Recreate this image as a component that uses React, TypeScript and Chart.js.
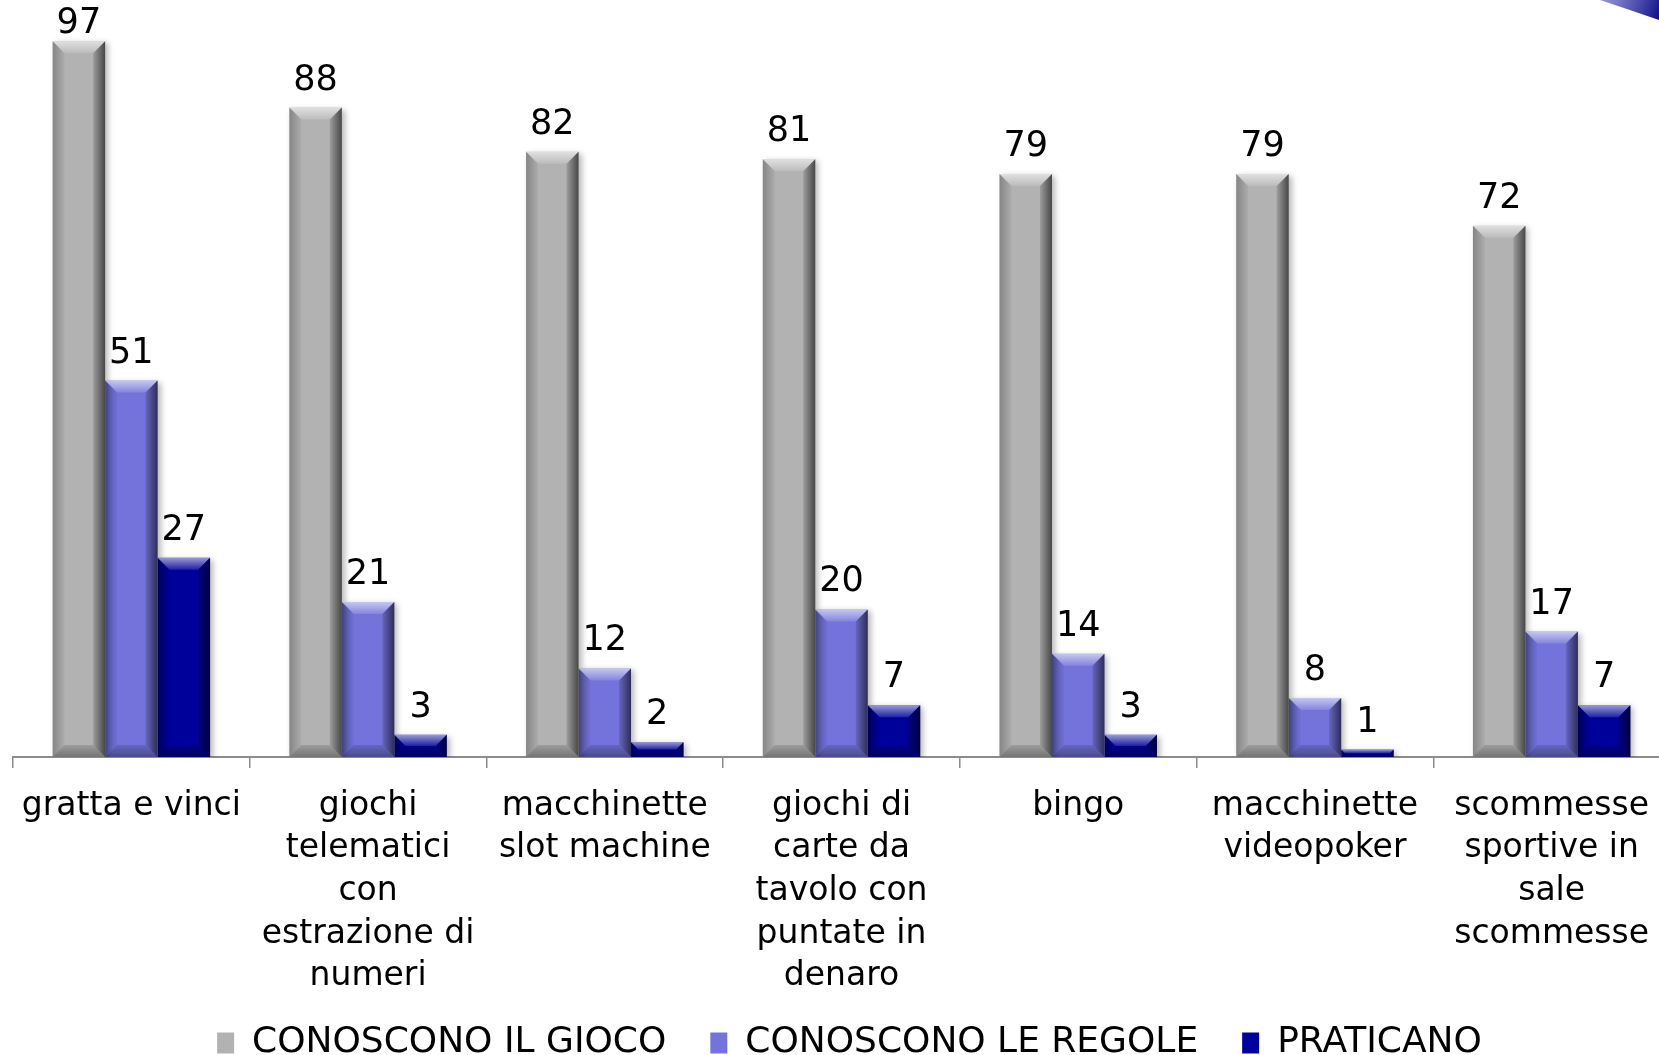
import React, { useEffect, useRef } from "react";
import { Chart, registerables } from "chart.js";

Chart.register(...registerables);

const categories: string[][] = [
  ["gratta e vinci"],
  ["giochi", "telematici", "con", "estrazione di", "numeri"],
  ["macchinette", "slot machine"],
  ["giochi di", "carte da", "tavolo con", "puntate in", "denaro"],
  ["bingo"],
  ["macchinette", "videopoker"],
  ["scommesse", "sportive in", "sale", "scommesse"],
];
const seriesNames = ["CONOSCONO IL GIOCO", "CONOSCONO LE REGOLE", "PRATICANO"];
const conosconoGioco = [97, 88, 82, 81, 79, 79, 72];
const conosconoRegole = [51, 21, 12, 20, 14, 8, 17];
const praticano = [27, 3, 2, 7, 3, 1, 7];
const seriesColors = ["#B2B2B2", "#7373DB", "#00009A"];

const FONT = "'DejaVu Sans', sans-serif";

const shadowPlugin = {
  id: "barShadow",
  beforeDatasetDraw(chart: any) {
    const ctx = chart.ctx;
    ctx.save();
    ctx.shadowColor = "rgba(0,0,0,0.28)";
    ctx.shadowBlur = 6;
    ctx.shadowOffsetX = 3;
    ctx.shadowOffsetY = 2;
  },
  afterDatasetDraw(chart: any) {
    chart.ctx.restore();
  },
};

const bevelPlugin = {
  id: "bevel",
  afterDatasetsDraw(chart: any) {
    const ctx = chart.ctx;
    chart.data.datasets.forEach((_ds: any, di: number) => {
      const meta = chart.getDatasetMeta(di);
      meta.data.forEach((bar: any) => {
        const { x, y, base, width } = bar.getProps(["x", "y", "base", "width"], true);
        const L = x - width / 2;
        const R = x + width / 2;
        const T = Math.min(y, base);
        const B = Math.max(y, base);
        const h = B - T;
        const b = Math.min(12, h / 2);
        ctx.save();
        let g = ctx.createLinearGradient(0, T, 0, T + b);
        g.addColorStop(0, "rgba(255,255,255,0.6)");
        g.addColorStop(1, "rgba(255,255,255,0.12)");
        ctx.fillStyle = g;
        ctx.beginPath();
        ctx.moveTo(L, T);
        ctx.lineTo(R, T);
        ctx.lineTo(R - b, T + b);
        ctx.lineTo(L + b, T + b);
        ctx.closePath();
        ctx.fill();
        g = ctx.createLinearGradient(R - b, 0, R, 0);
        g.addColorStop(0, "rgba(0,0,0,0.12)");
        g.addColorStop(1, "rgba(0,0,0,0.6)");
        ctx.fillStyle = g;
        ctx.beginPath();
        ctx.moveTo(R, T);
        ctx.lineTo(R, B);
        ctx.lineTo(R - b, B - b);
        ctx.lineTo(R - b, T + b);
        ctx.closePath();
        ctx.fill();
        g = ctx.createLinearGradient(L, 0, L + b, 0);
        g.addColorStop(0, "rgba(0,0,0,0.25)");
        g.addColorStop(1, "rgba(0,0,0,0.03)");
        ctx.fillStyle = g;
        ctx.beginPath();
        ctx.moveTo(L, T);
        ctx.lineTo(L + b, T + b);
        ctx.lineTo(L + b, B - b);
        ctx.lineTo(L, B);
        ctx.closePath();
        ctx.fill();
        g = ctx.createLinearGradient(0, B - b, 0, B);
        g.addColorStop(0, "rgba(0,0,0,0.12)");
        g.addColorStop(1, "rgba(0,0,0,0.35)");
        ctx.fillStyle = g;
        ctx.beginPath();
        ctx.moveTo(L, B);
        ctx.lineTo(R, B);
        ctx.lineTo(R - b, B - b);
        ctx.lineTo(L + b, B - b);
        ctx.closePath();
        ctx.fill();
        ctx.restore();
      });
    });
  },
};

const valueLabelPlugin = {
  id: "valueLabels",
  afterDatasetsDraw(chart: any) {
    const ctx = chart.ctx;
    ctx.save();
    ctx.font = `35px ${FONT}`;
    ctx.fillStyle = "#000";
    ctx.textAlign = "center";
    ctx.textBaseline = "alphabetic";
    chart.data.datasets.forEach((ds: any, di: number) => {
      const meta = chart.getDatasetMeta(di);
      meta.data.forEach((bar: any, i: number) => {
        const { x, y } = bar.getProps(["x", "y"], true);
        const yy = Math.max(y - 18, 33);
        ctx.fillText(String(ds.data[i]), x, yy);
      });
    });
    ctx.restore();
  },
};

const legendPlacePlugin = {
  id: "legendPlace",
  afterLayout(chart: any) {
    const lg = chart.legend;
    if (!lg) return;
    lg.top = 981;
    lg.bottom = chart.height;
    lg.height = lg.bottom - lg.top;
    lg.left += 8;
    lg.right += 8;
  },
};

const decorPlugin = {
  id: "decor",
  afterDraw(chart: any) {
    const ctx = chart.ctx;
    ctx.save();
    const g = ctx.createLinearGradient(1605, 0, 1659, 18);
    g.addColorStop(0, "rgba(70,70,180,0.6)");
    g.addColorStop(1, "#10108a");
    ctx.fillStyle = g;
    ctx.beginPath();
    ctx.moveTo(1600, 0);
    ctx.quadraticCurveTo(1630, 10, 1659, 20);
    ctx.lineTo(1659, 0);
    ctx.closePath();
    ctx.fill();
    ctx.restore();
  },
};

export default function App() {
  const ref = useRef<HTMLCanvasElement | null>(null);

  useEffect(() => {
    if (!ref.current) return;
    Chart.defaults.font.family = FONT;
    const chart = new Chart(ref.current, {
      type: "bar",
      data: {
        labels: categories,
        datasets: [
          { label: seriesNames[0], data: conosconoGioco, backgroundColor: seriesColors[0] },
          { label: seriesNames[1], data: conosconoRegole, backgroundColor: seriesColors[1] },
          { label: seriesNames[2], data: praticano, backgroundColor: seriesColors[2] },
        ],
      },
      options: {
        responsive: false,
        animation: false,
        devicePixelRatio: 1,
        layout: { padding: { top: 19, left: 13, right: 20, bottom: 0 } },
        datasets: {
          bar: { categoryPercentage: 0.665, barPercentage: 1.0, borderWidth: 0 },
        },
        plugins: {
          legend: {
            position: "bottom",
            maxHeight: 50,
            labels: {
              color: "#000",
              font: { family: FONT, size: 36 },
              boxWidth: 17,
              boxHeight: 21,
              padding: 44,
            },
          },
          tooltip: { enabled: false },
        },
        scales: {
          x: {
            grid: {
              display: true,
              drawOnChartArea: false,
              drawTicks: true,
              tickLength: 11,
              color: "#8c8c8c",
              lineWidth: 1.5,
              offset: true,
            },
            border: { display: true, color: "#8c8c8c", width: 2 },
            ticks: {
              color: "#000",
              font: { family: FONT, size: 33, lineHeight: 1.29 },
              padding: 17,
              maxRotation: 0,
              minRotation: 0,
              autoSkip: false,
            },
            afterFit: (s: any) => {
              s.height = 248;
            },
          },
          y: { display: false, min: 0, max: 100 },
        },
      },
      plugins: [shadowPlugin, bevelPlugin, valueLabelPlugin, legendPlacePlugin, decorPlugin],
    } as any);
    return () => chart.destroy();
  }, []);

  return (
    <div
      style={{
        position: "fixed",
        left: 0,
        top: 0,
        width: 1659,
        height: 1055,
        overflow: "hidden",
        background: "#fff",
      }}
    >
      <canvas ref={ref} width={1690} height={1055} style={{ display: "block" }} />
    </div>
  );
}
